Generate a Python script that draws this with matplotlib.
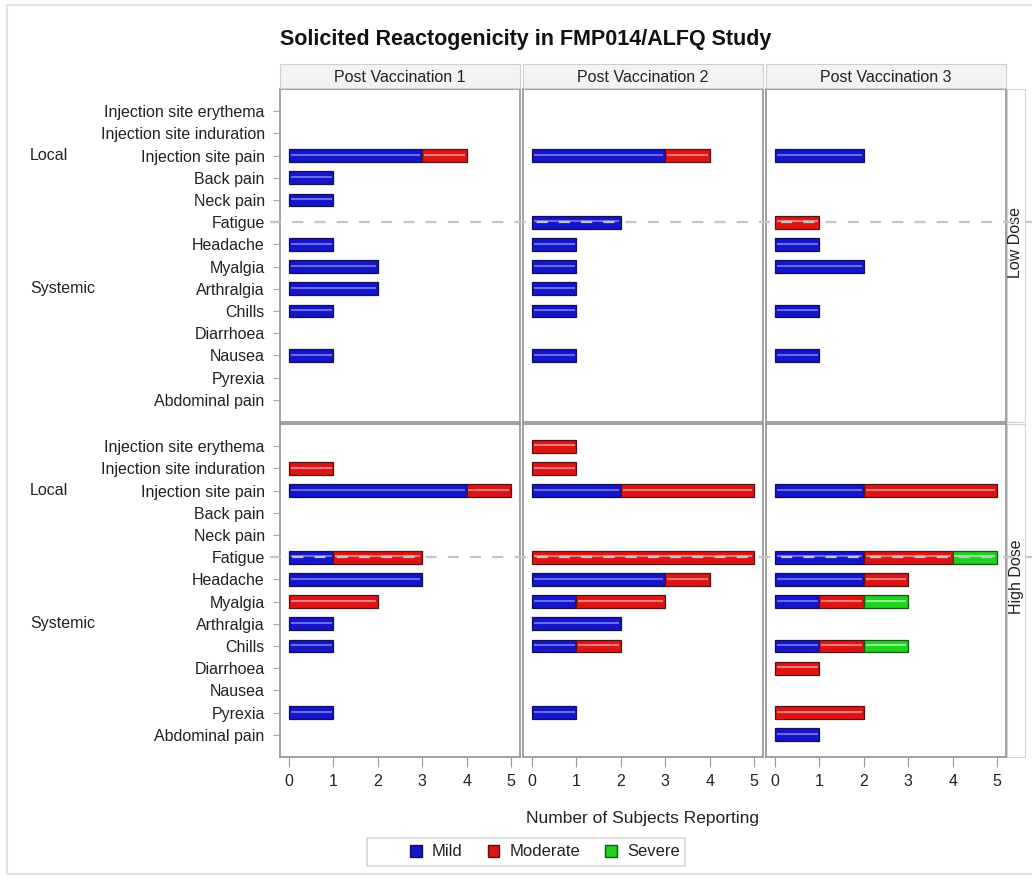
import matplotlib
matplotlib.use("Agg")
import matplotlib.pyplot as plt
import matplotlib.transforms as mtransforms
from matplotlib.patches import Rectangle, Patch
from matplotlib.lines import Line2D
import numpy as np

plt.rcParams['font.family'] = ['Liberation Sans', 'DejaVu Sans']

# ---- data -------------------------------------------------------------
events = ["Injection site erythema", "Injection site induration", "Injection site pain",
          "Back pain", "Neck pain", "Fatigue", "Headache", "Myalgia", "Arthralgia",
          "Chills", "Diarrhoea", "Nausea", "Pyrexia", "Abdominal pain"]
visits = ["Post Vaccination 1", "Post Vaccination 2", "Post Vaccination 3"]
doses = ["Low Dose", "High Dose"]
severities = ["Mild", "Moderate", "Severe"]

# counts per event (same order as `events`), one list per dose/visit/severity
low_p1_mild = [0, 0, 3, 1, 1, 0, 1, 2, 2, 1, 0, 1, 0, 0]
low_p1_mod  = [0, 0, 1, 0, 0, 0, 0, 0, 0, 0, 0, 0, 0, 0]
low_p1_sev  = [0, 0, 0, 0, 0, 0, 0, 0, 0, 0, 0, 0, 0, 0]

low_p2_mild = [0, 0, 3, 0, 0, 2, 1, 1, 1, 1, 0, 1, 0, 0]
low_p2_mod  = [0, 0, 1, 0, 0, 0, 0, 0, 0, 0, 0, 0, 0, 0]
low_p2_sev  = [0, 0, 0, 0, 0, 0, 0, 0, 0, 0, 0, 0, 0, 0]

low_p3_mild = [0, 0, 2, 0, 0, 0, 1, 2, 0, 1, 0, 1, 0, 0]
low_p3_mod  = [0, 0, 0, 0, 0, 1, 0, 0, 0, 0, 0, 0, 0, 0]
low_p3_sev  = [0, 0, 0, 0, 0, 0, 0, 0, 0, 0, 0, 0, 0, 0]

high_p1_mild = [0, 0, 4, 0, 0, 1, 3, 0, 1, 1, 0, 0, 1, 0]
high_p1_mod  = [0, 1, 1, 0, 0, 2, 0, 2, 0, 0, 0, 0, 0, 0]
high_p1_sev  = [0, 0, 0, 0, 0, 0, 0, 0, 0, 0, 0, 0, 0, 0]

high_p2_mild = [0, 0, 2, 0, 0, 0, 3, 1, 2, 1, 0, 0, 1, 0]
high_p2_mod  = [1, 1, 3, 0, 0, 5, 1, 2, 0, 1, 0, 0, 0, 0]
high_p2_sev  = [0, 0, 0, 0, 0, 0, 0, 0, 0, 0, 0, 0, 0, 0]

high_p3_mild = [0, 0, 2, 0, 0, 2, 2, 1, 0, 1, 0, 0, 0, 1]
high_p3_mod  = [0, 0, 3, 0, 0, 2, 1, 1, 0, 1, 1, 0, 2, 0]
high_p3_sev  = [0, 0, 0, 0, 0, 1, 0, 1, 0, 1, 0, 0, 0, 0]

panels = {
    ("Low Dose", 0): (low_p1_mild, low_p1_mod, low_p1_sev),
    ("Low Dose", 1): (low_p2_mild, low_p2_mod, low_p2_sev),
    ("Low Dose", 2): (low_p3_mild, low_p3_mod, low_p3_sev),
    ("High Dose", 0): (high_p1_mild, high_p1_mod, high_p1_sev),
    ("High Dose", 1): (high_p2_mild, high_p2_mod, high_p2_sev),
    ("High Dose", 2): (high_p3_mild, high_p3_mod, high_p3_sev),
}
groups = [("Local", "Injection site pain"), ("Systemic", "Arthralgia")]
ref_event = "Fatigue"
x_ticks = [0, 1, 2, 3, 4, 5]

# ---- styling ----------------------------------------------------------
fill = {"Mild": "#1414c8", "Moderate": "#dc1414", "Severe": "#1ed21e"}
shine = {"Mild": "#6a6af0", "Moderate": "#f07a7a", "Severe": "#8cf08c"}
edge = {"Mild": "#10105a", "Moderate": "#5a1010", "Severe": "#105a10"}
txt = "#222222"
frame = "#9a9a9a"
fs = 11.5

W, H = 1032, 882
fig = plt.figure(figsize=(W / 100, H / 100), dpi=100)


def fx(px):
    return px / W


def fy(py):
    return 1 - py / H


# outer light frame
fig.patches.append(Rectangle((fx(7), fy(874)), fx(1060) - fx(7), fy(5) - fy(874),
                             transform=fig.transFigure, fill=False,
                             edgecolor="#e2e2e2", lw=1.5, zorder=0))

col_left = [280, 523, 766]
col_w = 240
row_top = [89, 424]
row_h = 333

ypos = np.arange(len(events))
bar_h = 0.58

axes = {}
for r, dose in enumerate(doses):
    for c in range(3):
        ax = fig.add_axes([fx(col_left[c]), fy(row_top[r] + row_h), fx(col_w), row_h / H])
        axes[(r, c)] = ax
        vals = panels[(dose, c)]
        left = np.zeros(len(events))
        for sev, v in zip(severities, vals):
            v = np.asarray(v, dtype=float)
            m = v > 0
            ax.barh(ypos[m], v[m], left=left[m], height=bar_h, color=fill[sev],
                    edgecolor=edge[sev], linewidth=0.9, zorder=2)
            # glossy highlight line through each segment
            ax.hlines(ypos[m] - 0.04, left[m] + 0.04, left[m] + v[m] - 0.04,
                      colors=shine[sev], linewidth=1.5, zorder=3)
            left = left + v
        ax.set_xlim(-0.2, 5.2)
        ax.set_ylim(len(events), -1)
        for s in ax.spines.values():
            s.set_color(frame)
            s.set_linewidth(1.3)
        ax.set_yticks(ypos)
        if c == 0:
            ax.set_yticklabels(events, fontsize=fs, color=txt)
            ax.tick_params(axis="y", length=5, color="#aaaaaa", pad=6)
        else:
            ax.tick_params(axis="y", length=0, labelleft=False)
        ax.set_xticks(x_ticks)
        if r == 1:
            ax.set_xticklabels([str(t) for t in x_ticks], fontsize=fs, color=txt)
            ax.tick_params(axis="x", length=7, color="#999999", pad=5)
        else:
            ax.tick_params(axis="x", length=0, labelbottom=False)

        # dashed reference line at the fatigue row, across the panels and beyond
        yi = events.index(ref_event)
        if c == 0:
            tr = mtransforms.blended_transform_factory(fig.transFigure, ax.transData)
            ln = Line2D([fx(270), fx(1032)], [yi, yi], transform=tr, color="#c4c4c4",
                        lw=1.6, dashes=(5, 5), zorder=10)
            fig.lines.append(ln)

    # group labels at left
    ax0 = axes[(r, 0)]
    tr0 = mtransforms.blended_transform_factory(fig.transFigure, ax0.transData)
    for name, ev in groups:
        fig.text(fx(30), events.index(ev), name, transform=tr0, fontsize=fs, color=txt,
                 ha="left", va="center")

    # row header on the right
    sx = fig.add_axes([fx(1007), fy(row_top[r] + row_h), fx(18), row_h / H])
    sx.set_xticks([]); sx.set_yticks([])
    sx.set_facecolor("white")
    for s in sx.spines.values():
        s.set_color("#d0d0d0")
    sx.text(0.5, 0.54, dose, rotation=90, ha="center", va="center",
            fontsize=fs, color=txt, transform=sx.transAxes)

# column headers
for c, v in enumerate(visits):
    hx = fig.add_axes([fx(col_left[c]), fy(88), fx(col_w), 24 / H])
    hx.set_xticks([]); hx.set_yticks([])
    hx.set_facecolor("#f3f3f3")
    for s in hx.spines.values():
        s.set_color("#cfcfcf")
    hx.text(0.5, 0.45, v, ha="center", va="center", fontsize=fs, color=txt,
            transform=hx.transAxes)

fig.text(fx(526), fy(40), "Solicited Reactogenicity in FMP014/ALFQ Study",
         ha="center", va="center", fontsize=15.5, fontweight="bold", color="#111111")
fig.text(fx(642), fy(818), "Number of Subjects Reporting", ha="center", va="center",
         fontsize=12.5, color=txt)

# legend
fig.patches.append(Rectangle((fx(367), fy(866)), fx(318), 28 / H,
                             transform=fig.transFigure, facecolor="white",
                             edgecolor="#d8d8d8", lw=1.2, zorder=1))
handles = [Patch(facecolor=fill[s], edgecolor=edge[s], label=s) for s in severities]
leg = fig.legend(handles=handles, loc="center", bbox_to_anchor=(fx(545), fy(852)),
                 ncol=3, frameon=False, fontsize=12, handlelength=0.7,
                 handleheight=0.7, handletextpad=0.6, columnspacing=1.5)
for t in leg.get_texts():
    t.set_color(txt)

fig.savefig("out.png", dpi=100, facecolor="white")
